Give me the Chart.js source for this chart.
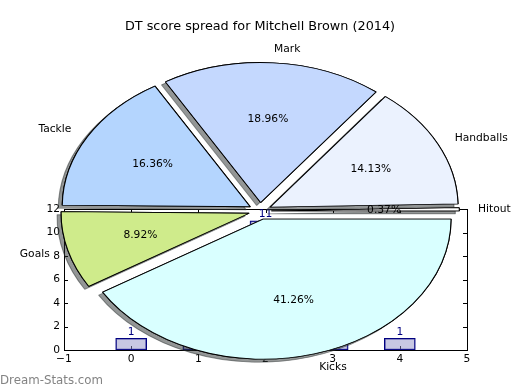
<!DOCTYPE html>
<html>
<head>
<meta charset="utf-8">
<script src="https://cdn.jsdelivr.net/npm/chart.js@4.4.1/dist/chart.umd.min.js"></script>
<style>
  body { margin: 0; background: #fff; }
  #wrap { position: relative; width: 520px; height: 390px; }
  #wrap canvas { position: absolute; left: 0; top: 0; }
  #pie { pointer-events: none; }
</style>
</head>
<body>
<div id="wrap">
  <canvas id="bars" width="520" height="390"></canvas>
  <canvas id="pie" width="520" height="390"></canvas>
</div>
<script>
// Pie: share of DT score (clockwise from 3 o'clock)
var pieLabels = ['Kicks', 'Goals', 'Tackle', 'Mark', 'Handballs', 'Hitout'];
var pieValues = [41.26, 8.92, 16.36, 18.96, 14.13, 0.37];
var pieColors = ['#d9ffff', '#cfeb8b', '#b4d5fe', '#c4d8fe', '#ebf2fe', '#ffffff'];

// Bars behind the pie
var binCenters = [0, 1, 2, 3, 4];
var binCounts = [1, 1, 11, 1, 1];
var xTicks = [-1, 0, 1, 2, 3, 4, 5];
var yTicks = [0, 2, 4, 6, 8, 10, 12];

var SQUASH = 0.745;   // pie drawn as an ellipse
var EXPLODE = 11.3;   // px each wedge is pushed out

Chart.defaults.font.family = 'DejaVu Sans';
Chart.defaults.font.size = 10.7;
Chart.defaults.color = '#000';

// frame, inward ticks and bar value labels
var framePlugin = {
    id: 'frame',
    beforeDatasetsDraw: function(chart) {
        var ctx = chart.ctx, a = chart.chartArea;
        var xs = chart.scales.x, ys = chart.scales.y;
        ctx.save();
        ctx.strokeStyle = '#000';
        ctx.lineWidth = 1;
        ctx.beginPath();
        xTicks.forEach(function(v) {
            var px = Math.round(xs.getPixelForValue(v)) + 0.5;
            ctx.moveTo(px, a.bottom); ctx.lineTo(px, a.bottom - 4);
            ctx.moveTo(px, a.top); ctx.lineTo(px, a.top + 4);
        });
        yTicks.forEach(function(v) {
            var py = Math.round(ys.getPixelForValue(v)) + 0.5;
            ctx.moveTo(a.left, py); ctx.lineTo(a.left + 4, py);
            ctx.moveTo(a.right, py); ctx.lineTo(a.right - 4, py);
        });
        ctx.stroke();
        ctx.restore();
    },
    afterDatasetsDraw: function(chart) {
        var ctx = chart.ctx, a = chart.chartArea;
        ctx.save();
        ctx.strokeStyle = '#000';
        ctx.lineWidth = 1;
        ctx.strokeRect(Math.round(a.left) + 0.5, Math.round(a.top) + 0.5,
            Math.round(a.right - a.left), Math.round(a.bottom - a.top));
        ctx.fillStyle = '#000080';
        ctx.font = '10.7px "DejaVu Sans"';
        ctx.textAlign = 'center';
        ctx.textBaseline = 'bottom';
        chart.getDatasetMeta(0).data.forEach(function(bar, i) {
            ctx.fillText(String(binCounts[i]), bar.x, bar.y - 1);
        });
        ctx.restore();
    }
};

new Chart(document.getElementById('bars'), {
    type: 'bar',
    data: {
        datasets: [{
            data: binCenters.map(function(x, i) { return { x: x, y: binCounts[i] }; }),
            backgroundColor: 'rgba(145,145,200,0.5)',
            borderColor: '#000080',
            borderWidth: 1,
            borderSkipped: false,
            barThickness: 31
        }]
    },
    options: {
        responsive: false,
        animation: false,
        layout: { padding: { left: 0, top: 209, right: 53, bottom: 0 } },
        plugins: { legend: { display: false }, tooltip: { enabled: false } },
        scales: {
            x: {
                type: 'linear', min: -1, max: 5, offset: false,
                grid: { display: false, drawTicks: false },
                border: { display: false },
                ticks: {
                    stepSize: 1, padding: 3,
                    callback: function(v) { return String(v).replace('-', '\u2212'); }
                },
                afterFit: function(s) { s.height = 40; }
            },
            y: {
                min: 0, max: 12,
                grid: { display: false, drawTicks: false },
                border: { display: false },
                ticks: { stepSize: 2, padding: 4 },
                afterFit: function(s) { s.width = 64; }
            }
        }
    },
    plugins: [framePlugin]
});

// exploded, squashed pie with shadows and matplotlib-style labels
var piePlugin = {
    id: 'pieDraw',
    beforeDatasetsDraw: function(chart) {
        var ctx = chart.ctx;
        var arcs = chart.getDatasetMeta(0).data;
        var cx = arcs[0].x, cy = arcs[0].y, r = arcs[0].outerRadius;
        var total = pieValues.reduce(function(s, v) { return s + v; }, 0);

        ctx.save();
        ctx.translate(0, cy);
        ctx.scale(1, SQUASH);
        ctx.translate(0, -cy);
        // pass 1 casts the shadows, pass 2 paints the wedges clean on top
        [true, false].forEach(function(withShadow) {
            arcs.forEach(function(arc) {
                var mid = (arc.startAngle + arc.endAngle) / 2;
                ctx.save();
                ctx.translate(Math.cos(mid) * EXPLODE, Math.sin(mid) * EXPLODE);
                if (withShadow) {
                    ctx.shadowColor = 'rgba(40,45,45,0.5)';
                    ctx.shadowOffsetX = -4;
                    ctx.shadowOffsetY = 3;
                    ctx.shadowBlur = 0;
                }
                arc.draw(ctx);
                ctx.restore();
            });
        });
        ctx.restore();

        ctx.save();
        ctx.fillStyle = '#000';
        ctx.font = '10.7px "DejaVu Sans"';
        ctx.textBaseline = 'middle';
        arcs.forEach(function(arc, i) {
            var mid = (arc.startAngle + arc.endAngle) / 2;
            var c = Math.cos(mid), s = Math.sin(mid);
            var ex = cx + c * EXPLODE, ey = cy + s * EXPLODE * SQUASH;
            ctx.textAlign = c > 0 ? 'left' : 'right';
            ctx.fillText(pieLabels[i], ex + c * r * 1.1, ey + s * r * 1.1 * SQUASH);
            ctx.textAlign = 'center';
            ctx.fillText((pieValues[i] / total * 100).toFixed(2) + '%',
                ex + c * r * 0.6, ey + s * r * 0.6 * SQUASH);
        });

        ctx.font = '12.8px "DejaVu Sans"';
        ctx.textAlign = 'center';
        ctx.textBaseline = 'alphabetic';
        ctx.fillText('DT score spread for Mitchell Brown (2014)', 260, 30);

        ctx.font = '11.8px "DejaVu Sans"';
        ctx.textAlign = 'left';
        ctx.fillStyle = 'rgba(100,100,100,0.8)';
        ctx.fillText('Dream-Stats.com', 0, 384);
        ctx.restore();
        return false;
    }
};

new Chart(document.getElementById('pie'), {
    type: 'pie',
    data: {
        labels: pieLabels,
        datasets: [{
            data: pieValues,
            backgroundColor: pieColors,
            borderColor: '#000',
            borderWidth: 1.1
        }]
    },
    options: {
        responsive: false,
        animation: false,
        rotation: 90,
        radius: 188,
        layout: { padding: { top: 32 } },
        plugins: { legend: { display: false }, tooltip: { enabled: false } }
    },
    plugins: [piePlugin]
});
</script>
</body>
</html>
